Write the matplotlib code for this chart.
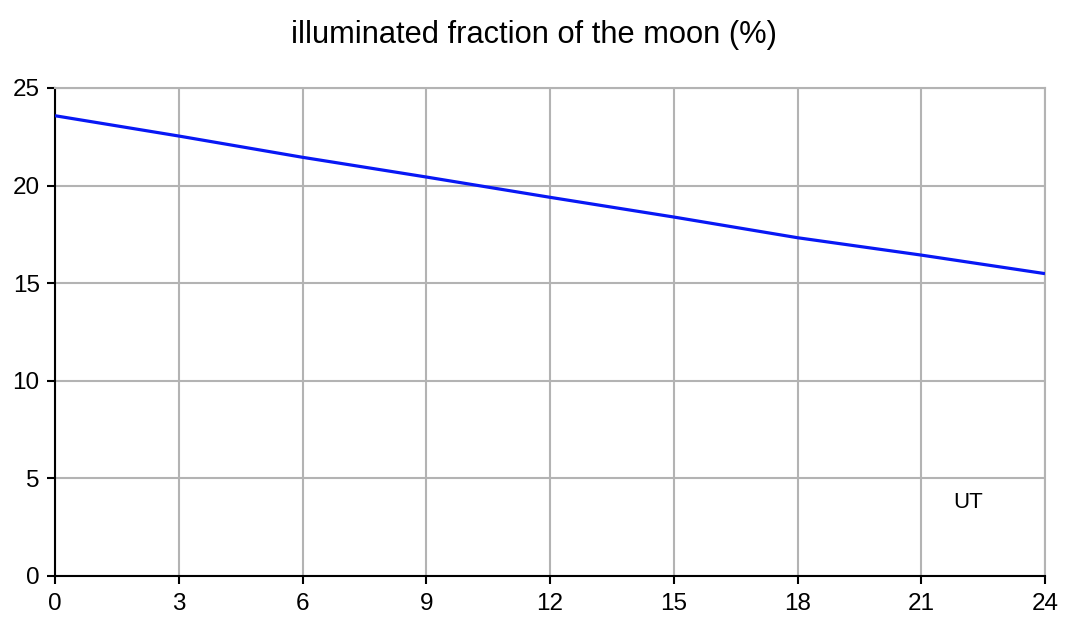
import matplotlib
matplotlib.use("Agg")
import matplotlib.pyplot as plt

hours = [0, 3, 6, 9, 12, 15, 18, 21, 24]
illum = [23.58, 22.54, 21.45, 20.44, 19.40, 18.39, 17.33, 16.44, 15.49]
xticks = [0, 3, 6, 9, 12, 15, 18, 21, 24]
yticks = [0, 5, 10, 15, 20, 25]
title = "illuminated fraction of the moon (%)"
xlabel_text = "UT"

plt.rcParams['font.family'] = ['Liberation Sans', 'DejaVu Sans']

fig = plt.figure(figsize=(10.68, 6.32), dpi=100)
ax = fig.add_axes([55/1068, 56/632, 990/1068, 488/632])
ax.plot(hours, illum, color='#0818f5', lw=2.3, solid_capstyle='butt', zorder=3)
ax.set_xlim(0, 24)
ax.set_ylim(0, 25)
ax.set_xticks(xticks)
ax.set_yticks(yticks)
ax.grid(True, color='#b3b3b3', lw=1.5)
ax.set_axisbelow(True)
for s in ['top', 'right']:
    ax.spines[s].set_color('#b3b3b3')
    ax.spines[s].set_linewidth(1.5)
for s in ['left', 'bottom']:
    ax.spines[s].set_color('black')
    ax.spines[s].set_linewidth(1.5)
ax.tick_params(direction='out', length=6, width=1.5, labelsize=17.5)
ax.tick_params(axis='x', pad=6)
ax.tick_params(axis='y', pad=5)
ax.text(22.13, 3.74, xlabel_text, fontsize=16, ha='center', va='center')
fig.text(0.5, 1 - 35/632, title, fontsize=22.2, ha='center', va='center')
fig.savefig('out.png', dpi=100)
